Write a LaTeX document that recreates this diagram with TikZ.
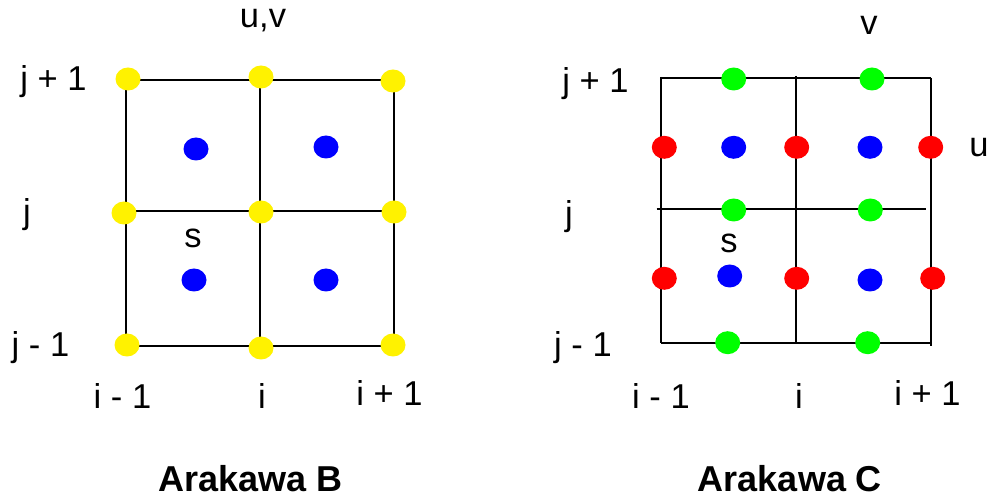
\documentclass[tikz,border=0pt]{standalone}
\usepackage{fontspec}
\setmainfont{Liberation Sans}
\usetikzlibrary{shapes.geometric}
\tikzset{
  dot/.style={ellipse, minimum width=25pt, minimum height=23pt, inner sep=0pt},
  ydot/.style={dot, fill=yellow},
  bdot/.style={dot, fill=blue},
  rdot/.style={dot, fill=red},
  gdot/.style={dot, fill=green},
  gridline/.style={line width=1.7pt, black},
  lbl/.style={anchor=base, inner sep=0pt, font=\fontsize{34.5}{40}\selectfont},
  ttl/.style={anchor=base, inner sep=0pt, text depth=0pt, font=\fontsize{36}{42}\selectfont\bfseries}
}
\begin{document}
\begin{tikzpicture}[x=1pt,y=-1pt]
\useasboundingbox (0,0) rectangle (989,497);
% ---------- Arakawa B ----------
\coordinate (B11) at (125.7,80);
\coordinate (B21) at (259.7,80);
\coordinate (B31) at (394,80);
\coordinate (B12) at (125.7,210.7);
\coordinate (B22) at (259.7,210.7);
\coordinate (B32) at (394,210.7);
\coordinate (B13) at (125.7,345.7);
\coordinate (B23) at (259.7,345.7);
\coordinate (B33) at (394,345.7);
\draw[gridline] (B11) -- (B31) (B12) -- (B32) (B13) -- (B33)
                (B11) -- (B13) (B21) -- (B23) (B31) -- (B33);
\node[ydot] (yb1) at (128,79) {};
\node[ydot] (yb2) at (261,77) {};
\node[ydot] (yb3) at (393,81) {};
\node[ydot] (yb4) at (124,213) {};
\node[ydot] (yb5) at (261,212) {};
\node[ydot] (yb6) at (394,212) {};
\node[ydot] (yb7) at (127,345) {};
\node[ydot] (yb8) at (261,348) {};
\node[ydot] (yb9) at (393,345) {};
\node[bdot] (bb1) at (196,149) {};
\node[bdot] (bb2) at (326,147) {};
\node[bdot] (bb3) at (194,280) {};
\node[bdot] (bb4) at (326,280) {};
\node[lbl] (tuv) at (263,28) {u,v};
\node[lbl] (tbjp) at (53.5,91) {j + 1};
\node[lbl] (tbj) at (27,224) {j};
\node[lbl] (tbjm) at (40.5,356) {j - 1};
\node[lbl] (tbs) at (193,248) {s};
\node[lbl] (tbim) at (122.5,408) {i - 1};
\node[lbl] (tbi) at (262,408) {i};
\node[lbl] (tbip) at (389.5,405) {i + 1};
\node[ttl] (titleB) at (250.5,491.5) {Arakawa B};
% ---------- Arakawa C ----------
\coordinate (C11) at (661,77);
\coordinate (C13) at (661,343.3);
\coordinate (C21) at (795.7,76);
\coordinate (C23) at (795.7,343.3);
\coordinate (C31) at (931,78);
\coordinate (C33) at (931,345.7);
\coordinate (CT1) at (661,78);
\coordinate (CT3) at (931,78);
\coordinate (CM1) at (656.7,209);
\coordinate (CM3) at (926,209);
\coordinate (CB1) at (661,343.3);
\coordinate (CB3) at (931,343.3);
\draw[gridline] (CT1) -- (CT3) (CM1) -- (CM3) (CB1) -- (CB3)
                (C11) -- (C13) (C21) -- (C23) (C31) -- (C33);
\node[gdot] (gc1) at (733.7,79) {};
\node[gdot] (gc2) at (872,79) {};
\node[gdot] (gc3) at (733.7,210) {};
\node[gdot] (gc4) at (870.3,210) {};
\node[gdot] (gc5) at (727.7,342.7) {};
\node[gdot] (gc6) at (867.7,342.7) {};
\node[rdot] (rc1) at (664.3,147.3) {};
\node[rdot] (rc2) at (796.7,147.3) {};
\node[rdot] (rc3) at (930.7,147.3) {};
\node[rdot] (rc4) at (664.3,278.3) {};
\node[rdot] (rc5) at (796.7,278.3) {};
\node[rdot] (rc6) at (932.7,278.3) {};
\node[bdot] (bc1) at (733.7,147.3) {};
\node[bdot] (bc2) at (870,147.3) {};
\node[bdot] (bc3) at (729.7,276) {};
\node[bdot] (bc4) at (870,280) {};
\node[lbl] (tv) at (869,35) {v};
\node[lbl] (tu) at (979,157) {u};
\node[lbl] (tcjp) at (595.5,93) {j + 1};
\node[lbl] (tcj) at (569,225.7) {j};
\node[lbl] (tcjm) at (583,357) {j - 1};
\node[lbl] (tcs) at (729,253) {s};
\node[lbl] (tcim) at (661,408) {i - 1};
\node[lbl] (tci) at (799,408) {i};
\node[lbl] (tcip) at (927.5,405) {i + 1};
\node[ttl] (titleC) at (790,491.5) {Arakawa C};
\end{tikzpicture}
\end{document}
